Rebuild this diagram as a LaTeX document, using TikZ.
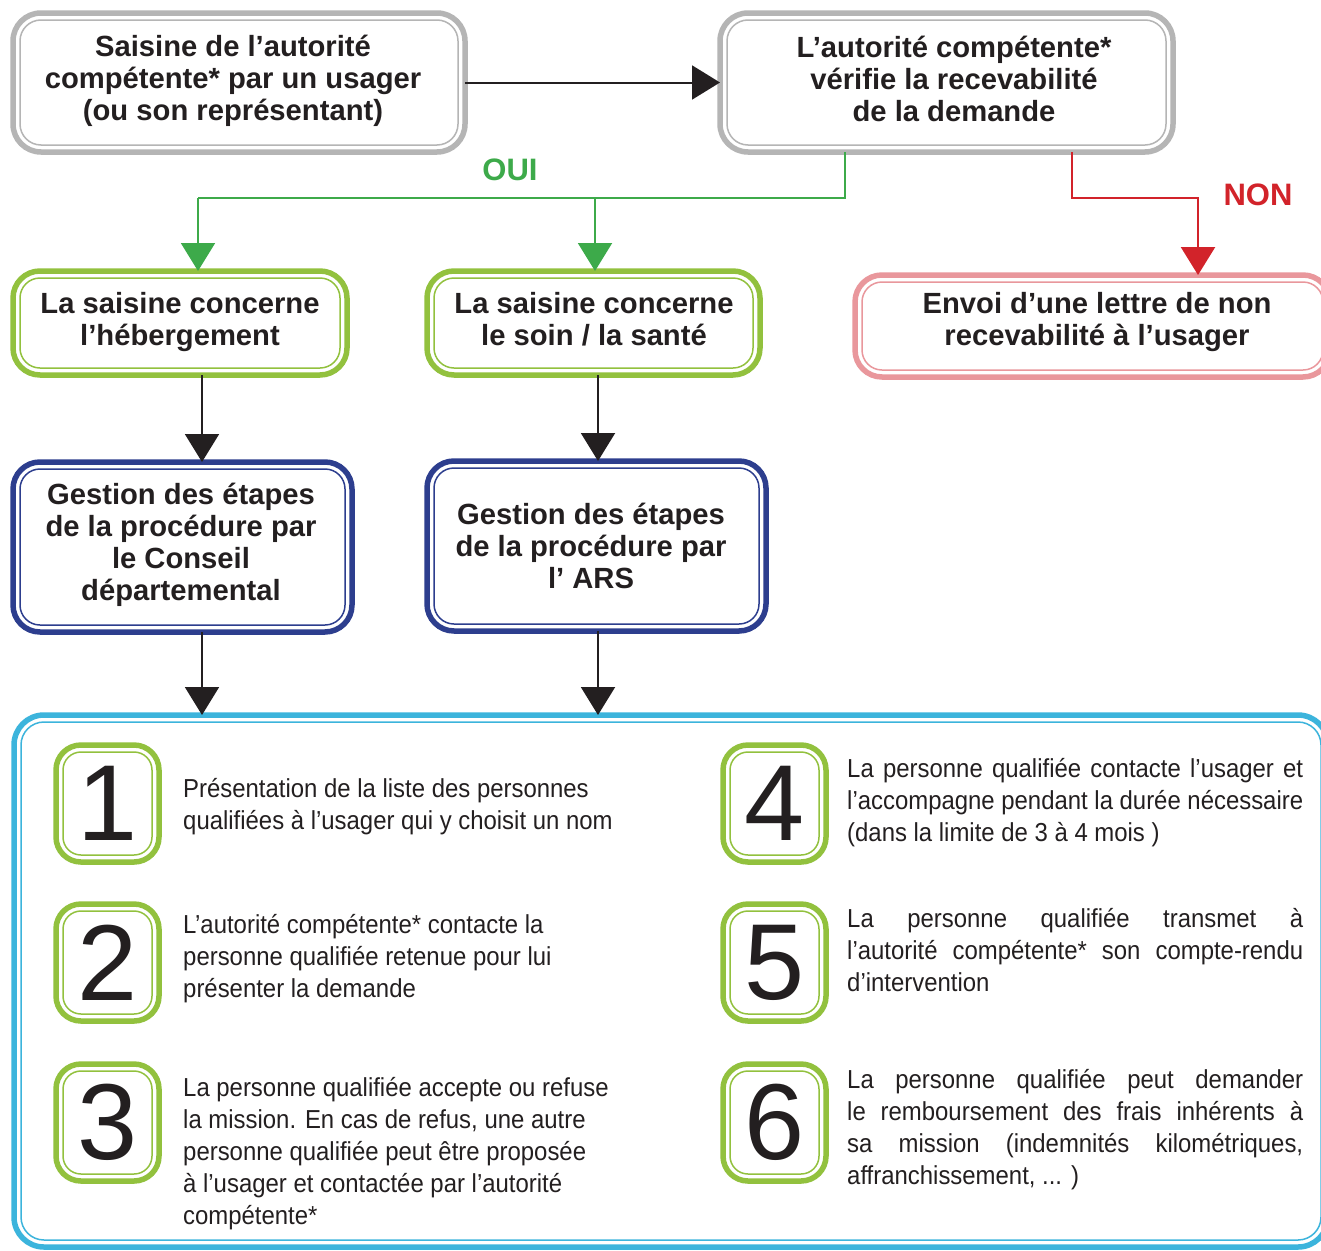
\documentclass[tikz,border=0pt]{standalone}
\usepackage{fontspec}
\setmainfont{Liberation Sans}
\newfontfamily\bodyfont{Liberation Sans}[FakeStretch=0.92]
\usetikzlibrary{arrows.meta}
\definecolor{cgray}{HTML}{B5B5B5}
\definecolor{cgreen}{HTML}{92C13E}
\definecolor{cgarrow}{HTML}{3DAA4A}
\definecolor{cred}{HTML}{D2232A}
\definecolor{cpink}{HTML}{E9979C}
\definecolor{cblue}{HTML}{2D3E8E}
\definecolor{clblue}{HTML}{3CB4DC}
\definecolor{ctext}{HTML}{231F20}
\tikzset{
  obox/.style={draw=#1, line width=5.5pt, fill=white, outer sep=0pt, inner sep=0pt},
  ibox/.style={draw=#1, line width=1.5pt},
  head/.style={font=\bfseries\fontsize{29.2}{32}\selectfont, align=center, text=ctext, inner sep=0pt},
  body/.style={font=\bodyfont\fontsize{26}{32}\selectfont, align=left, text=ctext, inner sep=0pt, anchor=west},
  numb/.style={font=\fontsize{108}{108}\selectfont, text=ctext, inner sep=0pt},
  lab/.style={font=\bfseries\fontsize{31}{31}\selectfont, inner sep=0pt},
  blk/.style={draw=ctext, line width=2pt, -{Triangle[length=28pt,width=34pt]}},
  gline/.style={draw=cgarrow, line width=2pt},
  garr/.style={draw=cgarrow, line width=2pt, -{Triangle[length=28pt,width=34pt]}},
  rarr/.style={draw=cred, line width=2.5pt, -{Triangle[length=28pt,width=34pt]}},
}
\newcommand\dblbox[7]{%
  \pgfmathsetmacro\dbw{#5-#3}\pgfmathsetmacro\dbh{#6-#4}%
  \pgfmathsetmacro\dbx{(#3+#5)/2}\pgfmathsetmacro\dby{(#4+#6)/2}\pgfmathsetmacro\dbr{#7-7}%
  \node[obox=#2, rounded corners=#7pt, minimum width=\dbw pt, minimum height=\dbh pt] (#1) at (\dbx,\dby) {};
  \draw[ibox=#2, rounded corners=\dbr pt] ([shift={(7,7)}]#1.north west) rectangle ([shift={(-7,-7)}]#1.south east);}
\newcommand\jline[1]{\makebox[456pt][s]{#1}}
\begin{document}
\begin{tikzpicture}[x=1pt,y=-1pt]
\useasboundingbox (0,0) rectangle (1321,1250);
\clip (0,0) rectangle (1321,1250);
\fill[white] (0,0) rectangle (1321,1250);
% boxes
\dblbox{A}{cgray}{13}{13}{465}{152}{28}
\dblbox{B}{cgray}{720}{13}{1173}{152}{28}
\dblbox{C}{cgreen}{13}{271}{347}{375}{27}
\dblbox{D}{cgreen}{427}{271}{760}{375}{27}
\dblbox{E}{cpink}{855}{275}{1330}{377}{27}
\dblbox{F}{cblue}{13}{462}{352}{632}{27}
\dblbox{G}{cblue}{427}{461}{766}{631}{27}
\dblbox{Z}{clblue}{14}{715}{1328}{1247}{30}
\dblbox{N1}{cgreen}{56}{745}{159}{862}{25}
\dblbox{N2}{cgreen}{56}{904}{159}{1021}{25}
\dblbox{N3}{cgreen}{56}{1064}{159}{1181}{25}
\dblbox{N4}{cgreen}{723}{745}{826}{862}{25}
\dblbox{N5}{cgreen}{723}{904}{826}{1021}{25}
\dblbox{N6}{cgreen}{723}{1064}{826}{1181}{25}
% box texts
\node[head] (At) at (233,81) {Saisine de l’autorité\\compétente* par un usager\\(ou son représentant)};
\node[head] (Bt) at (954,79) {L’autorité compétente*\\vérifie la recevabilité\\de la demande};
\node[head] (Ct) at (180,322) {La saisine concerne\\l’hébergement};
\node[head] (Dt) at (594,319) {La saisine concerne\\le soin / la santé};
\node[head] (Et) at (1097,322) {Envoi d’une lettre de non\\recevabilité à l’usager};
\node[head] (Ft) at (181,545) {Gestion des étapes\\de la procédure par\\le Conseil\\départemental};
\node[head] (Gt) at (591,546) {Gestion des étapes\\de la procédure par\\l’ ARS};
% numbers
\node[numb] (n1) at (N1) {1};
\node[numb] (n2) at (N2) {2};
\node[numb] (n3) at (N3) {3};
\node[numb] (n4) at (N4) {4};
\node[numb] (n5) at (N5) {5};
\node[numb] (n6) at (N6) {6};
% step texts
\node[body] (s1) at (183,807) {Présentation de la liste des personnes\\qualifiées à l’usager qui y choisit un nom};
\node[body] (s2) at (183,959) {L’autorité compétente* contacte la\\personne qualifiée retenue pour lui\\présenter la demande};
\node[body] (s3) at (183,1154) {La personne qualifiée accepte ou refuse\\la mission. En cas de refus, une autre\\personne qualifiée peut être proposée\\à l’usager et contactée par l’autorité\\compétente*};
\node[body] (s4) at (847,803) {\jline{La personne qualifiée contacte l’usager et}\\\jline{l’accompagne pendant la durée nécessaire}\\(dans la limite de 3 à 4 mois )};
\node[body] (s5) at (847,950) {\jline{La personne qualifiée transmet à}\\\jline{l’autorité compétente* son compte-rendu}\\d’intervention};
\node[body] (s6) at (847,1130) {\jline{La personne qualifiée peut demander}\\\jline{le remboursement des frais inhérents à}\\\jline{sa mission (indemnités kilométriques,}\\affranchissement, ... )};
% labels
\node[lab, text=cgarrow] (oui) at (510,170) {OUI};
\node[lab, text=cred] (non) at (1258,195) {NON};
% connectors
\coordinate (gj) at (845,198);
\coordinate (gl) at (198,198);
\coordinate (gm) at (595,198);
\coordinate (rj) at (1072,198);
\coordinate (rr) at (1198,198);
\coordinate (c1) at (202,0);
\coordinate (c2) at (598,0);
\draw[blk] (A.east) -- (B.west);
\draw[gline] (B.south -| gj) -- (gj) -- (gl);
\draw[garr] (gl) -- (C.north -| gl);
\draw[garr] (gm) -- (D.north -| gm);
\draw[rarr] (B.south -| rj) -- (rj) -- (rr) -- (E.north -| rr);
\draw[blk] (C.south -| c1) -- (F.north -| c1);
\draw[blk] (D.south -| c2) -- (G.north -| c2);
\draw[blk] (F.south -| c1) -- (Z.north -| c1);
\draw[blk] (G.south -| c2) -- (Z.north -| c2);
\end{tikzpicture}
\end{document}
